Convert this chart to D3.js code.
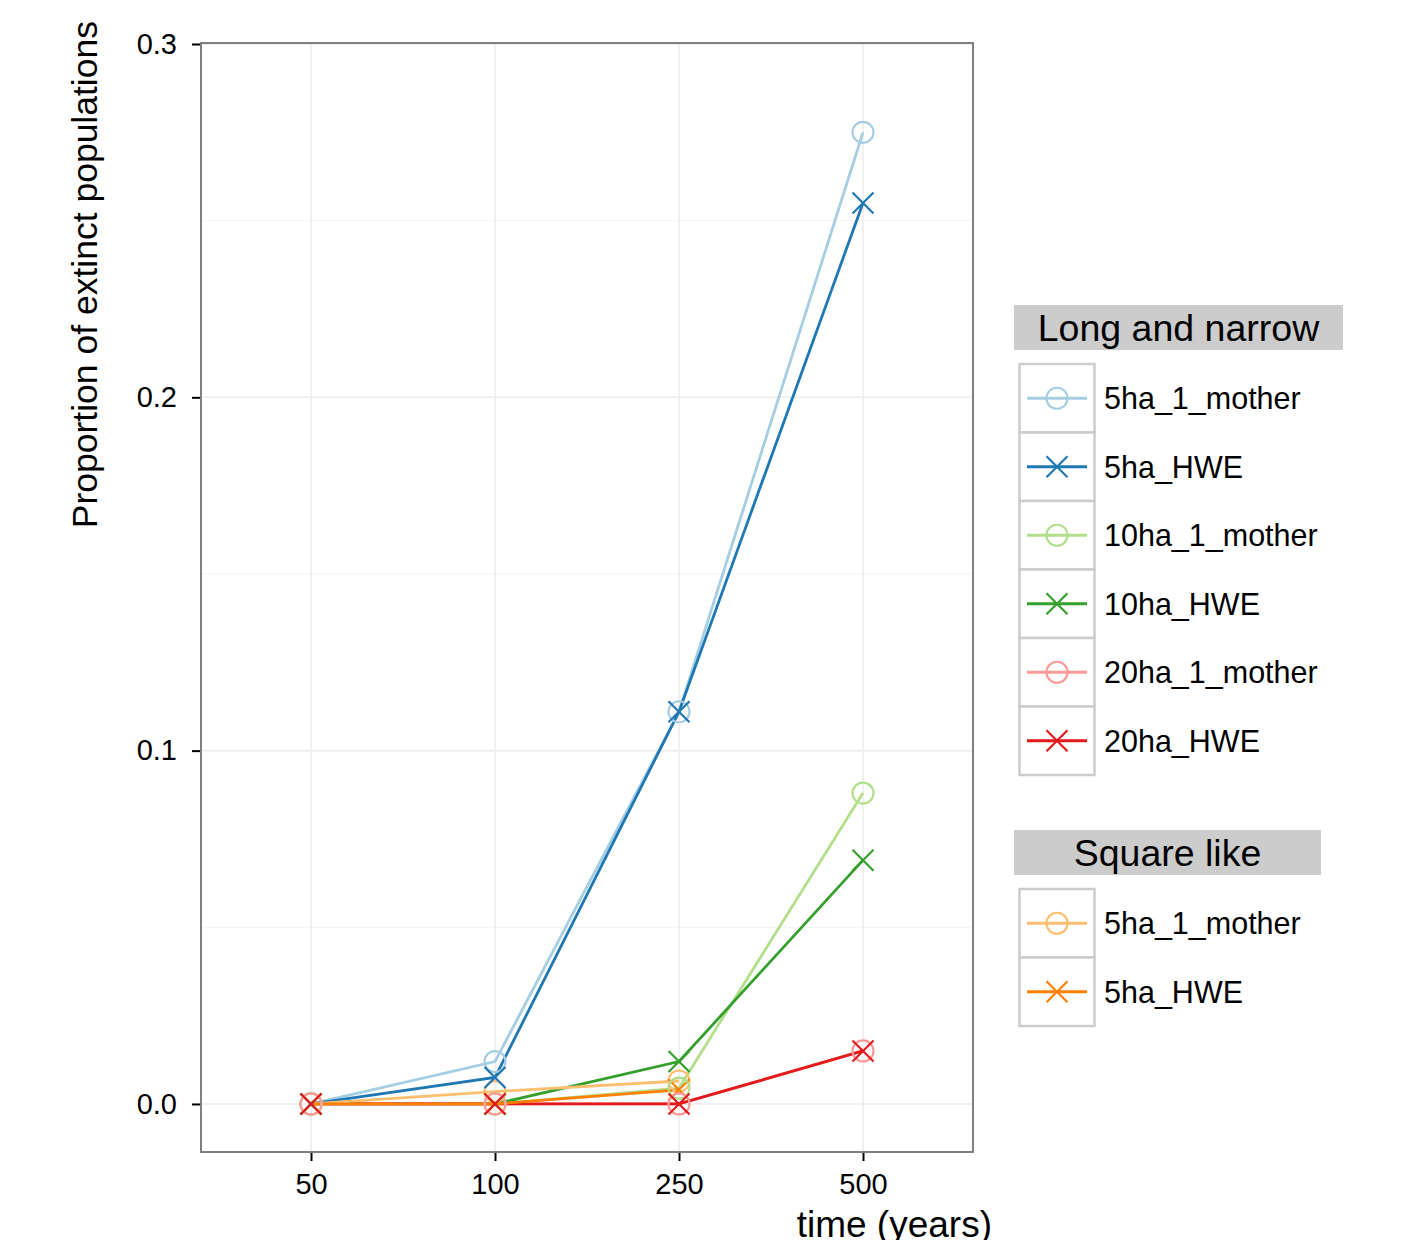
<!DOCTYPE html>
<html>
<head>
<meta charset="utf-8">
<script src="https://cdn.jsdelivr.net/npm/d3@7"></script>
<style>
  body { margin: 0; background: #fff; }
  text { font-family: "Liberation Sans", Arial, Helvetica, sans-serif; }
</style>
</head>
<body>
<script>
// data
var times = ["50", "100", "250", "500"];
var yTicks = [0, 0.1, 0.2, 0.3];
var yMinor = [0.05, 0.15, 0.25];

var longNames = ["5ha_1_mother", "5ha_HWE", "10ha_1_mother", "10ha_HWE", "20ha_1_mother", "20ha_HWE"];
var longColors = ["#a6cee3", "#1f78b4", "#b2df8a", "#33a02c", "#fb9a99", "#e31a1c"];
var longShapes = ["circle", "cross", "circle", "cross", "circle", "cross"];
var long5ha1mother = [0, 0.012, 0.111, 0.275];
var long5haHWE = [0, 0.0075, 0.111, 0.255];
var long10ha1mother = [0, 0, 0.0045, 0.088];
var long10haHWE = [0, 0, 0.012, 0.069];
var long20ha1mother = [0, 0, 0, 0.015];
var long20haHWE = [0, 0, 0, 0.015];
var longValues = [long5ha1mother, long5haHWE, long10ha1mother, long10haHWE, long20ha1mother, long20haHWE];

var squareNames = ["5ha_1_mother", "5ha_HWE"];
var squareColors = ["#fdbf6f", "#ff7f00"];
var squareShapes = ["circle", "cross"];
var square5ha1mother = [0, 0.0035, 0.0065];
var square5haHWE = [0, 0, 0.004];
var squareValues = [square5ha1mother, square5haHWE];

var W = 1421, H = 1240;
var panel = { left: 201, right: 973, top: 43, bottom: 1152 };

var svg = d3.select("body").append("svg")
    .attr("width", W)
    .attr("height", H);

// discrete x with ggplot-like 0.6 expansion
var x = d3.scalePoint()
    .domain(times)
    .range([panel.left + 110, panel.right - 110]);

var y = d3.scaleLinear()
    .domain([-0.0136, 0.3])
    .range([panel.bottom, panel.top + 1]);

// grid
svg.selectAll("line.minor")
    .data(yMinor)
    .enter().append("line")
    .attr("x1", panel.left).attr("x2", panel.right)
    .attr("y1", function(d) { return y(d); })
    .attr("y2", function(d) { return y(d); })
    .style("stroke", "#f5f5f5").style("stroke-width", 1.2);

svg.selectAll("line.ymajor")
    .data(yTicks)
    .enter().append("line")
    .attr("x1", panel.left).attr("x2", panel.right)
    .attr("y1", function(d) { return y(d); })
    .attr("y2", function(d) { return y(d); })
    .style("stroke", "#ebebeb").style("stroke-width", 1.5);

svg.selectAll("line.xmajor")
    .data(times)
    .enter().append("line")
    .attr("y1", panel.top).attr("y2", panel.bottom)
    .attr("x1", function(d) { return x(d); })
    .attr("x2", function(d) { return x(d); })
    .style("stroke", "#ebebeb").style("stroke-width", 1.5);

// series
var series = [];
longNames.forEach(function(n, i) {
  series.push({ name: n, color: longColors[i], shape: longShapes[i], values: longValues[i] });
});
squareNames.forEach(function(n, i) {
  series.push({ name: n, color: squareColors[i], shape: squareShapes[i], values: squareValues[i] });
});

var line = d3.line()
    .x(function(d, i) { return x(times[i]); })
    .y(function(d) { return y(d); });

var plot = svg.append("g");

plot.selectAll("path.series")
    .data(series)
    .enter().append("path")
    .attr("d", function(d) { return line(d.values); })
    .style("fill", "none")
    .style("stroke", function(d) { return d.color; })
    .style("stroke-width", 2.8);

function drawMarker(g, shape, color, cx, cy) {
  if (shape === "circle") {
    g.append("circle")
      .attr("cx", cx).attr("cy", cy).attr("r", 10.5)
      .style("fill", "none").style("stroke", color).style("stroke-width", 2.2);
  } else {
    var s = 10.5;
    g.append("path")
      .attr("d", "M" + (cx - s) + "," + (cy - s) + "L" + (cx + s) + "," + (cy + s) +
                 "M" + (cx - s) + "," + (cy + s) + "L" + (cx + s) + "," + (cy - s))
      .style("fill", "none").style("stroke", color).style("stroke-width", 2.2);
  }
}

// points: square-like first so the long-and-narrow markers sit on top
var pointOrder = series.slice(6).concat(series.slice(0, 6));
var pts = svg.append("g");
pointOrder.forEach(function(s) {
  s.values.forEach(function(v, i) {
    drawMarker(pts, s.shape, s.color, x(times[i]), y(v));
  });
});

// panel border
svg.append("rect")
    .attr("x", panel.left).attr("y", panel.top)
    .attr("width", panel.right - panel.left)
    .attr("height", panel.bottom - panel.top)
    .style("fill", "none").style("stroke", "#7f7f7f").style("stroke-width", 2);

// axes
var yAxis = svg.append("g")
    .attr("transform", "translate(" + (panel.left - 1) + ",0)")
    .call(d3.axisLeft(y).tickValues(yTicks).tickFormat(d3.format(".1f")).tickSize(8).tickPadding(15));
var xAxis = svg.append("g")
    .attr("transform", "translate(0," + (panel.bottom + 1) + ")")
    .call(d3.axisBottom(x).tickSize(8).tickPadding(12));

[yAxis, xAxis].forEach(function(a) {
  a.select(".domain").remove();
  a.selectAll(".tick line").style("stroke", "#000").style("stroke-width", 2);
  a.selectAll(".tick text").style("font-size", "29px").style("fill", "#000")
    .style("font-family", "'Liberation Sans', Arial, sans-serif");
});

// axis titles
svg.append("text")
    .attr("transform", "translate(97,21) rotate(-90)")
    .attr("text-anchor", "end")
    .style("font-size", "35.5px")
    .text("Proportion of extinct populations");

svg.append("text")
    .attr("x", 992).attr("y", 1237)
    .attr("text-anchor", "end")
    .style("font-size", "37px")
    .text("time (years)");

// legends
function drawLegend(top, title, titleWidth, names, colors, shapes) {
  var g = svg.append("g");
  g.append("rect")
    .attr("x", 1014).attr("y", top)
    .attr("width", titleWidth).attr("height", 45)
    .style("fill", "#cccccc");
  g.append("text")
    .attr("x", 1014 + titleWidth / 2).attr("y", top + 36)
    .attr("text-anchor", "middle")
    .style("font-size", "37.5px")
    .text(title);

  var keyTop = top + 59, keyH = 68.5;
  names.forEach(function(n, i) {
    var ky = keyTop + i * keyH;
    g.append("rect")
      .attr("x", 1019.5).attr("y", ky)
      .attr("width", 75).attr("height", keyH)
      .style("fill", "#fff").style("stroke", "#cccccc").style("stroke-width", 2.5);
    var cy = ky + keyH / 2;
    g.append("line")
      .attr("x1", 1027).attr("x2", 1087)
      .attr("y1", cy).attr("y2", cy)
      .style("stroke", colors[i]).style("stroke-width", 2.8);
    var s = 10.5;
    if (shapes[i] === "circle") {
      g.append("circle").attr("cx", 1057).attr("cy", cy).attr("r", s)
        .style("fill", "none").style("stroke", colors[i]).style("stroke-width", 2.2);
    } else {
      g.append("path")
        .attr("d", "M" + (1057 - s) + "," + (cy - s) + "L" + (1057 + s) + "," + (cy + s) +
                   "M" + (1057 - s) + "," + (cy + s) + "L" + (1057 + s) + "," + (cy - s))
        .style("fill", "none").style("stroke", colors[i]).style("stroke-width", 2.2);
    }
    g.append("text")
      .attr("x", 1104).attr("y", cy + 11)
      .style("font-size", "30.5px")
      .text(n);
  });
}

drawLegend(305, "Long and narrow", 329, longNames, longColors, longShapes);
drawLegend(830, "Square like", 307, squareNames, squareColors, squareShapes);
</script>
</body>
</html>
